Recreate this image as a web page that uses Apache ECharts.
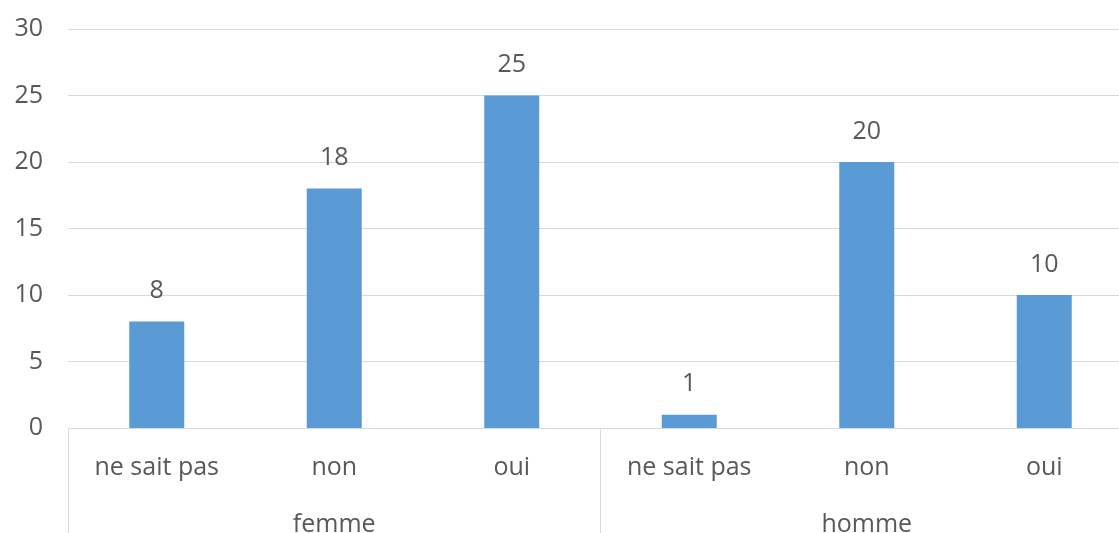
<!DOCTYPE html>
<html>
<head>
<meta charset="utf-8">
<script src="https://cdn.jsdelivr.net/npm/echarts@6/dist/echarts.min.js"></script>
<style>html,body{margin:0;padding:0;background:#fff;overflow:hidden;width:1119px;height:533px;}#c{position:absolute;left:0;top:0;width:1119px;height:533px;overflow:hidden;}</style>
</head>
<body>
<div id="c"></div>
<script>
const categories = ['ne sait pas', 'non', 'oui', 'ne sait pas', 'non', 'oui'];
const groups = ['femme', 'homme'];
const values = [8, 18, 25, 1, 20, 10];
const yTicks = [0, 5, 10, 15, 20, 25, 30];

const font = 'Open Sans';
const txt = '#595959';
const chart = echarts.init(document.getElementById('c'), null, {renderer: 'canvas', width: 1119, height: 533});
chart.setOption({
  animation: false,
  grid: {left: 68, width: 1065, top: 29, height: 399, containLabel: false, outerBoundsMode: 'none'},
  xAxis: [
    {
      type: 'category', data: categories, position: 'bottom',
      axisLine: {show: true, lineStyle: {color: '#d9d9d9', width: 1}},
      axisTick: {show: false},
      axisLabel: {color: txt, fontFamily: font, fontSize: 25, margin: 27, interval: 0}
    },
    {
      type: 'category', data: groups, position: 'bottom', offset: 0,
      axisLine: {show: false},
      axisTick: {show: true, length: 110, lineStyle: {color: '#d9d9d9', width: 1}},
      axisLabel: {color: txt, fontFamily: font, fontSize: 25, margin: 84, interval: 0}
    }
  ],
  yAxis: {
    type: 'value', min: yTicks[0], max: yTicks[yTicks.length - 1], interval: 5,
    axisLine: {show: false}, axisTick: {show: false},
    axisLabel: {color: txt, fontFamily: font, fontSize: 25, margin: 25},
    splitLine: {lineStyle: {color: '#d9d9d9', width: 1}}
  },
  series: [{
    type: 'bar', xAxisIndex: 0, data: values, barWidth: 55,
    itemStyle: {color: '#5b9bd5'},
    label: {show: true, position: 'top', distance: 18, color: txt, fontFamily: font, fontSize: 25}
  }]
});
</script>
</body>
</html>
